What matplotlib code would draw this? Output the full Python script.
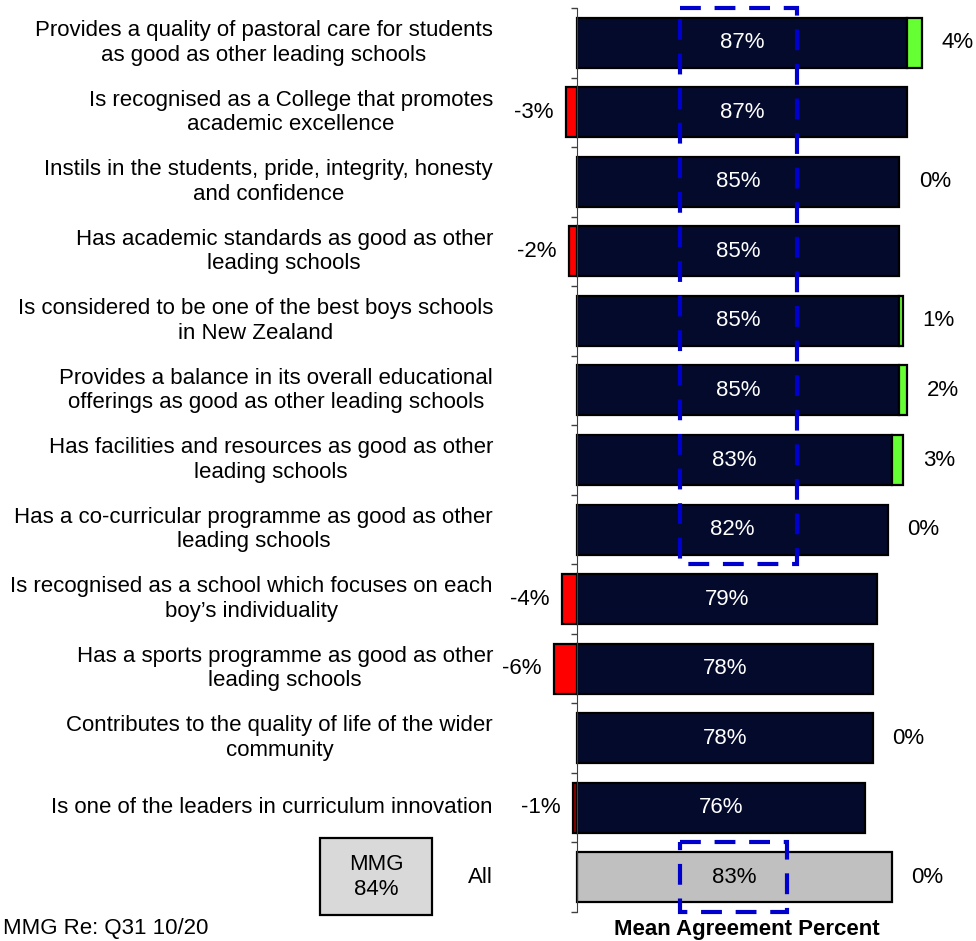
import matplotlib
matplotlib.use("Agg")
import matplotlib.pyplot as plt
from matplotlib.patches import Rectangle
import numpy as np

plt.rcParams['font.family'] = ['Liberation Sans', 'DejaVu Sans']

categories = [
    "Provides a quality of pastoral care for students\nas good as other leading schools",
    "Is recognised as a College that promotes\nacademic excellence",
    "Instils in the students, pride, integrity, honesty\nand confidence",
    "Has academic standards as good as other\nleading schools",
    "Is considered to be one of the best boys schools\nin New Zealand",
    "Provides a balance in its overall educational\nofferings as good as other leading schools",
    "Has facilities and resources as good as other\nleading schools",
    "Has a co-curricular programme as good as other\nleading schools",
    "Is recognised as a school which focuses on each\nboy\u2019s individuality",
    "Has a sports programme as good as other\nleading schools",
    "Contributes to the quality of life of the wider\ncommunity",
    "Is one of the leaders in curriculum innovation",
    "All",
]
mean_agreement = [87, 87, 85, 85, 85, 85, 83, 82, 79, 78, 78, 76, 83]
change = [4, -3, 0, -2, 1, 2, 3, 0, -4, -6, 0, -1, 0]
benchmark_label = "MMG"
benchmark_value = 84

W, H = 976, 941
fig = plt.figure(figsize=(W / 100, H / 100), dpi=100)
ax = fig.add_axes([539 / W, 29 / H, 437 / W, 904 / H])

n = len(categories)
y = np.arange(n)
bar_h = 0.72
dark = '#040A2C'
grey = '#C0C0C0'
green = '#66FF33'
red = '#FF0000'
fs = 16

main_colors = [dark] * (n - 1) + [grey]
ax.barh(y, mean_agreement, height=bar_h, color=main_colors,
        edgecolor='black', linewidth=1.6, zorder=2)

for i in range(n):
    v = mean_agreement[i]
    c = change[i]
    if c > 0:
        ax.barh(y[i], c, left=v, height=bar_h, color=green,
                edgecolor='black', linewidth=1.6, zorder=2)
    elif c < 0:
        ax.barh(y[i], c, left=0, height=bar_h,
                color=(red if c < -1 else '#8B0000'),
                edgecolor='black', linewidth=1.6, zorder=2)
    # in-bar value label
    ax.text(v / 2, y[i], f"{v:.0f}%", ha='center', va='center', fontsize=fs,
            color=('white' if i < n - 1 else 'black'), zorder=4)
    # change label
    if c >= 0:
        ax.annotate(f"{c:.0f}%", xy=(v + c, y[i]), xytext=(14, 0),
                    textcoords='offset points', ha='left', va='center',
                    fontsize=fs, color='black')
    else:
        ax.annotate(f"{c:.0f}%", xy=(c, y[i]), xytext=(-9, 0),
                    textcoords='offset points', ha='right', va='center',
                    fontsize=fs, color='black')
    # category label (right-aligned block, centred lines)
    ax.annotate(categories[i], xy=(0, y[i]), xytext=(-60.5, 0),
                textcoords='offset points', ha='right', va='center',
                multialignment='center', linespacing=1.22,
                fontsize=fs, color='black', annotation_clip=False)

# highlight boxes (dashed blue)
hl_style = dict(fill=False, edgecolor='#0000CC', linewidth=3,
                linestyle=(0, (5, 3.3)), zorder=3, clip_on=False)
ax.add_patch(Rectangle((27.2, -0.5), 58.0 - 27.2, 8.0, **hl_style))
ax.add_patch(Rectangle((27.2, 11.5), 55.4 - 27.2, 1.0, **hl_style))

ax.set_xlim(-10, 105.2)
ax.set_ylim(n - 0.5, -0.5)
ax.set_yticks(y)
ax.set_yticklabels([])
ax.set_yticks(np.arange(-0.5, n, 1), minor=True)
ax.tick_params(axis='y', which='major', length=0)
ax.tick_params(axis='y', which='minor', length=4, width=1, color='#404040', direction='out')
ax.set_xticks([])
for s in ['top', 'right', 'bottom']:
    ax.spines[s].set_visible(False)
ax.spines['left'].set_position(('data', 0))
ax.spines['left'].set_color('#404040')
ax.spines['left'].set_zorder(5)

# benchmark box
fig.patches.append(Rectangle((320 / W, 1 - 915 / H), 112 / W, 77 / H,
                             transform=fig.transFigure, facecolor='#D9D9D9',
                             edgecolor='black', linewidth=1.6))
fig.text(376 / W, 1 - 877 / H, f"{benchmark_label}\n{benchmark_value}%",
         ha='center', va='center', fontsize=fs, linespacing=1.3)

fig.text(747 / W, 1 - 930 / H, "Mean Agreement Percent", ha='center', va='center',
         fontsize=fs, fontweight='bold')
fig.text(3 / W, 1 - 939 / H, "MMG Re: Q31 10/20", ha='left', va='bottom', fontsize=fs)

fig.savefig("out.png", dpi=100)
